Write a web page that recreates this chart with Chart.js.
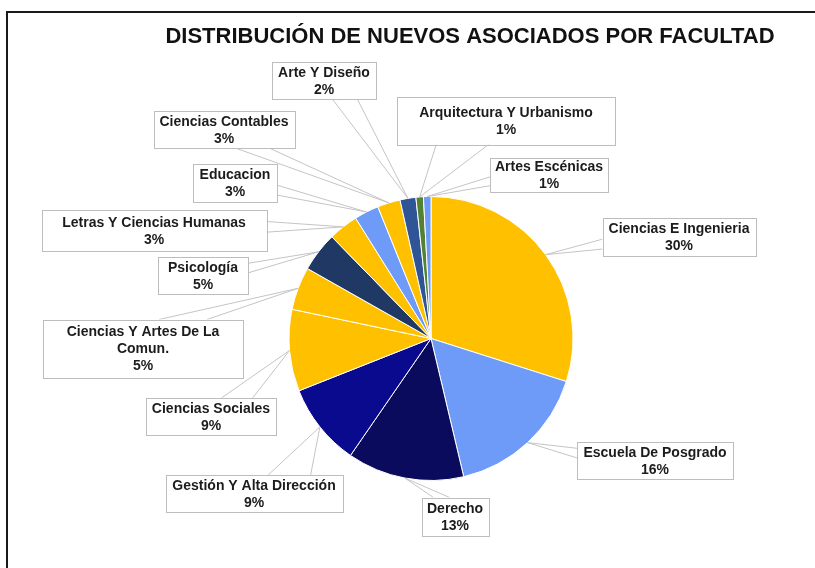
<!DOCTYPE html>
<html>
<head>
<meta charset="utf-8">
<script src="https://cdn.jsdelivr.net/npm/chart.js@4.4.0/dist/chart.umd.min.js"></script>
<style>
  html, body { margin: 0; padding: 0; background: #fff; }
</style>
</head>
<body>
<canvas id="chart" width="815" height="568"></canvas>
<script>
const titulo = "DISTRIBUCIÓN DE NUEVOS ASOCIADOS POR FACULTAD";

const facultades = [
  "Ciencias E Ingenieria",
  "Escuela De Posgrado",
  "Derecho",
  "Gestión Y Alta Dirección",
  "Ciencias Sociales",
  "Ciencias Y Artes De La Comun.",
  "Psicología",
  "Letras Y Ciencias Humanas",
  "Educacion",
  "Ciencias Contables",
  "Arte Y Diseño",
  "Arquitectura Y Urbanismo",
  "Artes Escénicas"
];

// share of new members (%)
const asociados = [29.9, 16.4, 13.3, 9.4, 9.3, 4.9, 4.5, 3.4, 2.8, 2.6, 1.8, 0.85, 0.85];

const colores = [
  "#FFC000", "#6E9BF7", "#0B0B5E", "#0A0A8F", "#FFC000", "#FFC000", "#1F3864",
  "#FFC000", "#6E9BF7", "#FFC000", "#2F5597", "#548235", "#6E9BF7"
];

// label boxes: centre offset from the pie centre, then width, height (px)
const cajas = [
  [248, -102, 153, 38],
  [224, 122, 156, 37],
  [24, 178, 67, 38],
  [-177, 155, 177, 37],
  [-220, 78, 130, 37],
  [-288, 10, 200, 58],
  [-228, -63, 90, 37],
  [-277, -108, 225, 41],
  [-196, -156, 84, 38],
  [-207, -209, 141, 37],
  [-107, -258, 104, 37],
  [75, -218, 218, 48],
  [118, -164, 118, 34]
];

const clamp = (v, a, b) => Math.max(a, Math.min(b, v));

function partir(ctx, texto, ancho) {
  const palabras = texto.split(" ");
  const lineas = [];
  let actual = "";
  palabras.forEach(p => {
    const prueba = actual ? actual + " " + p : p;
    if (actual && ctx.measureText(prueba).width > ancho) {
      lineas.push(actual);
      actual = p;
    } else {
      actual = prueba;
    }
  });
  if (actual) lineas.push(actual);
  return lineas;
}

const etiquetas = {
  id: "etiquetas",
  afterDatasetsDraw(chart) {
    const ctx = chart.ctx;
    const meta = chart.getDatasetMeta(0);
    const total = asociados.reduce((a, b) => a + b, 0);
    ctx.save();
    ctx.font = 'bold 14px "Liberation Sans", Arial, sans-serif';

    meta.data.forEach((arc, i) => {
      const p = arc.getProps(["x", "y", "startAngle", "endAngle", "outerRadius"], true);
      const mid = (p.startAngle + p.endAngle) / 2;
      const ax = p.x + Math.cos(mid) * p.outerRadius;
      const ay = p.y + Math.sin(mid) * p.outerRadius;

      const [dx, dy, w, h] = cajas[i];
      const cx = p.x + dx, cy = p.y + dy;
      const l = cx - w / 2, r = cx + w / 2, t = cy - h / 2, b = cy + h / 2;

      let p1, p2;
      if (Math.abs(ax - cx) / w > Math.abs(ay - cy) / h) {
        const ex = ax < cx ? l : r;
        const c = clamp(ay, t + 0.3 * h, b - 0.3 * h);
        p1 = [ex, c - 0.13 * h];
        p2 = [ex, c + 0.13 * h];
      } else {
        const ey = ay < cy ? t : b;
        const c = clamp(ax, l + 0.3 * w, r - 0.3 * w);
        p1 = [c - 0.12 * w, ey];
        p2 = [c + 0.12 * w, ey];
      }

      ctx.strokeStyle = "#C4C4C4";
      ctx.lineWidth = 1;
      ctx.beginPath();
      ctx.moveTo(p1[0], p1[1]);
      ctx.lineTo(ax, ay);
      ctx.lineTo(p2[0], p2[1]);
      ctx.stroke();

      ctx.fillStyle = "#fff";
      ctx.fillRect(l, t, w, h);
      ctx.strokeStyle = "#BDBDBD";
      ctx.strokeRect(Math.round(l) + 0.5, Math.round(t) + 0.5, Math.round(w), Math.round(h));

      const lineas = partir(ctx, facultades[i], w - 2);
      lineas.push(Math.round(asociados[i] / total * 100) + "%");
      ctx.fillStyle = "#1c1c1c";
      ctx.textAlign = "center";
      ctx.textBaseline = "middle";
      const alto = 17;
      const y0 = cy - (lineas.length - 1) * alto / 2 + 1;
      lineas.forEach((txt, k) => ctx.fillText(txt, cx, y0 + k * alto));
    });

    // title
    ctx.font = 'bold 22px "Liberation Sans", Arial, sans-serif';
    ctx.fillStyle = "#111";
    ctx.textAlign = "center";
    ctx.textBaseline = "middle";
    ctx.fillText(titulo, 470, 37);

    // frame (top and left edges only)
    ctx.strokeStyle = "#1a1a1a";
    ctx.lineWidth = 2;
    ctx.beginPath();
    ctx.moveTo(7, 568);
    ctx.lineTo(7, 12);
    ctx.lineTo(815, 12);
    ctx.stroke();
    ctx.restore();
  }
};

const ctx = document.getElementById("chart").getContext("2d");

const chart = new Chart(ctx, {
  type: "pie",
  data: {
    labels: facultades,
    datasets: [{
      data: asociados,
      backgroundColor: colores,
      borderColor: "#ffffff",
      borderWidth: 1
    }]
  },
  options: {
    responsive: false,
    animation: false,
    layout: {
      padding: { top: 196, bottom: 87, left: 231, right: 184 }
    },
    plugins: {
      legend: { display: false },
      tooltip: { enabled: false },
      title: { display: false }
    }
  },
  plugins: [etiquetas]
});
</script>
</body>
</html>
